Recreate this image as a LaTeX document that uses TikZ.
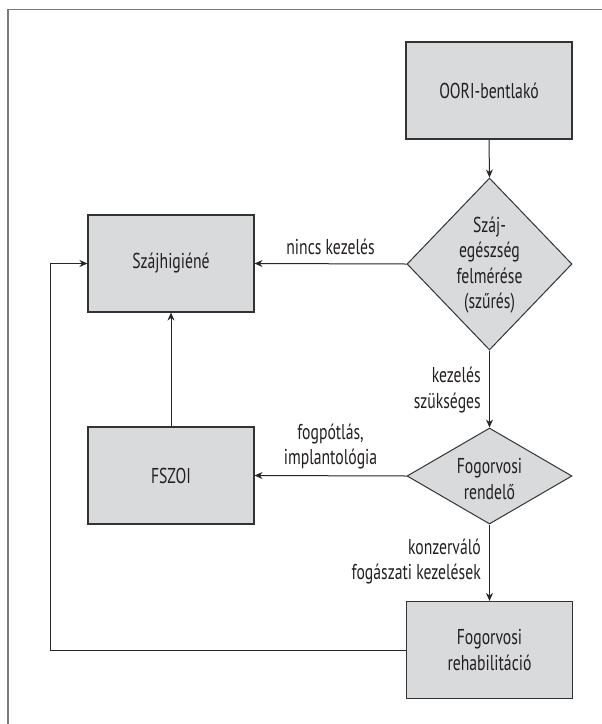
\documentclass[tikz,border=0pt]{standalone}
\usepackage{fontspec}
\setmainfont[FakeStretch=0.73]{PT Sans}
\usetikzlibrary{shapes.geometric,arrows.meta}
\definecolor{boxfill}{HTML}{D9DADB}
\definecolor{boxline}{HTML}{333333}
\definecolor{framecol}{HTML}{7A7A7A}
\definecolor{txt}{HTML}{231F20}
\begin{document}
\begin{tikzpicture}[x=1pt,y=-1pt,
  every node/.style={text=txt,font=\fontsize{21.5}{25.5}\selectfont},
  procbox/.style={draw=boxline,line width=1.1pt,fill=boxfill,rectangle,minimum width=166pt,minimum height=97pt,inner sep=0pt,align=center},
  decbox/.style={draw=boxline,line width=1pt,fill=boxfill,diamond,inner sep=0pt},
  txtlabel/.style={align=center,inner sep=0pt},
  conn/.style={draw=black!85,line width=1pt,-{Stealth[length=8pt,width=7pt]}},
  elabel/.style={inner sep=0pt}
]
\useasboundingbox (0,0) rectangle (602,724);
% frame
\draw[framecol,line width=1.4pt] (8,724) -- (8,9.5) -- (602,9.5);

% nodes
\node[procbox] (oori) at (489,90.5) {OORI-bentlakó};
\node[decbox,minimum width=165pt,minimum height=172pt] (d1) at (489.5,264) {};
\node[txtlabel] (d1t) at (489.5,265) {Száj-\\egészség\\felmérése\\(szűrés)};
\node[procbox] (sz) at (171,263.5) {Szájhigiéné};
\node[procbox] (fs) at (171,475.5) {FSZOI};
\node[decbox,minimum width=165pt,minimum height=96pt] (d2) at (489.5,476) {};
\node[txtlabel] (d2t) at (489.5,479) {Fogorvosi\\rendelő};
\node[procbox] (rh) at (489.5,650) {Fogorvosi\\rehabilitáció};

% connectors
\draw[conn] (oori.south) -- (d1.north);
\draw[conn] (d1.west) -- node[elabel,above=8pt] (l1) {nincs kezelés} (sz.east);
\draw[conn] (d1.south) -- (d2.north);
\node[elabel,align=right,anchor=east] (l2) at (481,390) {kezelés\\szükséges};
\draw[conn] (d2.west) -- node[elabel,align=center,above=6pt] (l3) {fogpótlás,\\implantológia} (fs.east);
\draw[conn] (fs.north) -- (sz.south);
\draw[conn] (d2.south) -- (rh.north);
\node[elabel,align=right,anchor=east] (l4) at (481,561.5) {konzerváló\\fogászati kezelések};
\coordinate (c1) at (50,650);
\coordinate (c2) at (50,263.5);
\draw[conn] (rh.west) -- (c1) -- (c2) -- (sz.west);
\end{tikzpicture}
\end{document}
